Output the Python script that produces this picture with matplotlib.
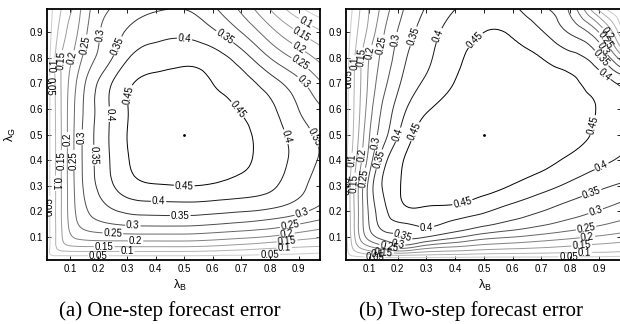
import numpy as np
import matplotlib
matplotlib.use("Agg")
import matplotlib.pyplot as plt
import matplotlib.tri as mtri

# grid nodes (lambda_B along columns, lambda_G along rows)
lam_B = [0.01, 0.03, 0.06, 0.1, 0.15, 0.22, 0.3, 0.4, 0.5, 0.6, 0.7, 0.8, 0.9, 0.99]
lam_G = [0.01, 0.03, 0.06, 0.1, 0.15, 0.22, 0.3, 0.4, 0.5, 0.6, 0.7, 0.8, 0.9, 0.99]

# (a) one-step forecast error, rows = lambda_G, cols = lambda_B
err_one_step = [
    [0, 0, 0, 0, 0, 0, 0, 0, 0, 0, 0, 0, 0, 0],
    [0, 0.045, 0.059, 0.06, 0.06, 0.06, 0.06, 0.06, 0.06, 0.057, 0.053, 0.048, 0.042, 0.035],
    [0, 0.05, 0.112, 0.139, 0.144, 0.145, 0.145, 0.145, 0.145, 0.138, 0.125, 0.11, 0.1, 0.095],
    [0, 0.05, 0.1225, 0.19, 0.2175, 0.226, 0.229, 0.23, 0.23, 0.222, 0.21, 0.195, 0.17, 0.15],
    [0, 0.05, 0.124, 0.21, 0.267, 0.293, 0.306, 0.31, 0.31, 0.302, 0.29, 0.275, 0.25, 0.225],
    [0, 0.05, 0.125, 0.217, 0.293, 0.343, 0.374, 0.383, 0.385, 0.38, 0.372, 0.36, 0.33, 0.29],
    [0, 0.05, 0.125, 0.219, 0.306, 0.374, 0.427, 0.446, 0.45, 0.445, 0.432, 0.41, 0.365, 0.32],
    [0, 0.05, 0.125, 0.22, 0.31, 0.383, 0.446, 0.47, 0.475, 0.472, 0.457, 0.43, 0.38, 0.34],
    [0, 0.05, 0.125, 0.22, 0.31, 0.385, 0.45, 0.475, 0.48, 0.475, 0.458, 0.428, 0.375, 0.335],
    [0, 0.05, 0.127, 0.218, 0.305, 0.383, 0.448, 0.473, 0.477, 0.468, 0.447, 0.412, 0.35, 0.3],
    [0, 0.05, 0.13, 0.21, 0.295, 0.375, 0.44, 0.465, 0.47, 0.45, 0.423, 0.375, 0.315, 0.245],
    [0, 0.05, 0.13, 0.19, 0.26, 0.325, 0.395, 0.425, 0.435, 0.423, 0.375, 0.30, 0.235, 0.175],
    [0, 0.04, 0.105, 0.165, 0.235, 0.31, 0.355, 0.385, 0.39, 0.36, 0.30, 0.22, 0.15, 0.1],
    [0, 0.035, 0.085, 0.14, 0.22, 0.29, 0.325, 0.345, 0.35, 0.31, 0.24, 0.15, 0.065, 0.0],
]

# (b) two-step forecast error
err_two_step = [
    [0, 0, 0, 0, 0, 0, 0, 0, 0, 0, 0, 0, 0, 0],
    [0, 0.045, 0.07, 0.09, 0.1, 0.11, 0.1, 0.093, 0.085, 0.082, 0.079, 0.076, 0.074, 0.071],
    [0, 0.065, 0.14, 0.19, 0.23, 0.27, 0.22, 0.195, 0.175, 0.164, 0.154, 0.143, 0.133, 0.125],
    [0, 0.075, 0.18, 0.27, 0.32, 0.35, 0.35, 0.31, 0.27, 0.251, 0.231, 0.212, 0.193, 0.176],
    [0, 0.08, 0.19, 0.3, 0.37, 0.395, 0.41, 0.385, 0.36, 0.333, 0.307, 0.281, 0.256, 0.235],
    [0, 0.085, 0.19, 0.31, 0.39, 0.447, 0.45, 0.445, 0.42, 0.392, 0.364, 0.336, 0.31, 0.285],
    [0, 0.085, 0.19, 0.315, 0.405, 0.455, 0.47, 0.472, 0.47, 0.447, 0.42, 0.389, 0.361, 0.34],
    [0, 0.07, 0.16, 0.27, 0.38, 0.45, 0.478, 0.487, 0.485, 0.475, 0.465, 0.44, 0.413, 0.39],
    [0, 0.06, 0.14, 0.245, 0.33, 0.42, 0.47, 0.485, 0.49, 0.49, 0.485, 0.47, 0.44, 0.405],
    [0, 0.057, 0.13, 0.225, 0.31, 0.39, 0.445, 0.47, 0.485, 0.487, 0.482, 0.468, 0.446, 0.40],
    [0, 0.055, 0.125, 0.21, 0.285, 0.36, 0.41, 0.452, 0.47, 0.475, 0.47, 0.458, 0.43, 0.385],
    [0, 0.05, 0.12, 0.2, 0.265, 0.34, 0.39, 0.44, 0.46, 0.462, 0.45, 0.42, 0.36, 0.2],
    [0, 0.04, 0.1, 0.165, 0.245, 0.32, 0.375, 0.425, 0.45, 0.445, 0.405, 0.345, 0.25, 0.03],
    [0, 0.03, 0.085, 0.15, 0.22, 0.3, 0.355, 0.40, 0.43, 0.412, 0.36, 0.29, 0.09, 0],
]

levels = [0.05, 0.1, 0.15, 0.2, 0.25, 0.3, 0.35, 0.4, 0.45]
tick_vals = [0.1, 0.2, 0.3, 0.4, 0.5, 0.6, 0.7, 0.8, 0.9]
tick_labels = ["0.1", "0.2", "0.3", "0.4", "0.5", "0.6", "0.7", "0.8", "0.9"]
center_point = (0.5, 0.5)
captions = ["(a) One-step forecast error", "(b) Two-step forecast error"]

# where the contour labels sit in each panel (layout only)
label_spots = [
    [(0.035, 0.69), (0.05, 0.77), (0.07, 0.79), (0.11, 0.80), (0.16, 0.85),
     (0.20, 0.89), (0.26, 0.85), (0.24, 0.58), (0.335, 0.65),
     (0.03, 0.22), (0.046, 0.31), (0.07, 0.40), (0.09, 0.48), (0.12, 0.40),
     (0.146, 0.49), (0.185, 0.42),
     (0.50, 0.30), (0.41, 0.23), (0.486, 0.175), (0.32, 0.137), (0.25, 0.108),
     (0.33, 0.083), (0.22, 0.062), (0.30, 0.044), (0.20, 0.025),
     (0.907, 0.21), (0.87, 0.145), (0.86, 0.11), (0.86, 0.08), (0.85, 0.047),
     (0.80, 0.02),
     (0.69, 0.60), (0.85, 0.49), (0.94, 0.48),
     (0.50, 0.865), (0.64, 0.88), (0.93, 0.95), (0.92, 0.91), (0.90, 0.84),
     (0.90, 0.77), (0.91, 0.70)],
    [(0.035, 0.72), (0.055, 0.78), (0.083, 0.80), (0.11, 0.82), (0.15, 0.85),
     (0.205, 0.87), (0.265, 0.88), (0.34, 0.89), (0.46, 0.88),
     (0.02, 0.30), (0.037, 0.40), (0.05, 0.31), (0.07, 0.42), (0.085, 0.33),
     (0.118, 0.47), (0.146, 0.40), (0.20, 0.50), (0.264, 0.51),
     (0.43, 0.215), (0.30, 0.14), (0.215, 0.10), (0.20, 0.07), (0.17, 0.055),
     (0.15, 0.04), (0.13, 0.03), (0.12, 0.02),
     (0.92, 0.35), (0.88, 0.254), (0.89, 0.195), (0.855, 0.137), (0.86, 0.10),
     (0.84, 0.067), (0.85, 0.04), (0.795, 0.015),
     (0.90, 0.53), (0.91, 0.72), (0.91, 0.80), (0.92, 0.84), (0.925, 0.87),
     (0.93, 0.895)],
]

plt.rcParams["font.family"] = ["Liberation Sans", "DejaVu Sans"]
plt.rcParams["mathtext.fontset"] = "custom"
plt.rcParams["mathtext.rm"] = "Liberation Sans"
plt.rcParams["mathtext.it"] = "Liberation Sans"

W, H = 620, 324
fig = plt.figure(figsize=(W / 100, H / 100), dpi=100)

line_colors = [str(0.8 * (levels[-1] - l) / (levels[-1] - levels[0])) for l in levels]


def px_rect(x0, x1, y0, y1):
    return [x0 / W, 1 - y1 / H, (x1 - x0) / W, (y1 - y0) / H]


axes_px = [(47, 320, 9.3, 260), (346, 620.5, 9.3, 260)]

# structured triangulation of the grid (same diagonal in every cell)
nx, ny = len(lam_B), len(lam_G)
X, Y = np.meshgrid(lam_B, lam_G)
tris = []
for j in range(ny - 1):
    for i in range(nx - 1):
        a = j * nx + i
        b, c, d = a + 1, a + nx, a + nx + 1
        tris.append([a, b, d])
        tris.append([a, d, c])
tri = mtri.Triangulation(X.ravel(), Y.ravel(), np.array(tris))
refiner = mtri.UniformTriRefiner(tri)

for k, (z, rect) in enumerate(zip([err_one_step, err_two_step], axes_px)):
    ax = fig.add_axes(px_rect(*rect))
    zf = np.asarray(z, dtype=float).ravel()
    interp = mtri.CubicTriInterpolator(tri, zf, kind="min_E")
    tri_f, z_f = refiner.refine_field(zf, triinterpolator=interp, subdiv=3)
    cs = ax.tricontour(tri_f, z_f, levels=levels, colors=line_colors, linewidths=0.7)
    ax.set_xlim(0.02, 0.975)
    ax.set_ylim(0.01, 0.99)
    ax.clabel(cs, fmt="%g", fontsize=7, inline=True, inline_spacing=1,
              colors="k", manual=label_spots[k])
    ax.plot([center_point[0]], [center_point[1]], "k.", ms=2)
    ax.set_xticks(tick_vals)
    ax.set_xticklabels(tick_labels)
    ax.set_yticks(tick_vals)
    ax.set_yticklabels(tick_labels)
    ax.tick_params(direction="in", length=3, width=0.6, labelsize=7,
                   top=True, right=True, pad=3)
    for s in ax.spines.values():
        s.set_linewidth(1.3)
    fig.text((180 if k == 0 else 485) / W, 1 - 285 / H, r"λ$_{\rm B}$",
             ha="center", va="center", fontsize=9)
    fig.text((170 if k == 0 else 471) / W, 1 - 311 / H, captions[k],
             ha="center", va="center", fontsize=15, family="Liberation Serif")

fig.text(10 / W, 1 - 135 / H, r"λ$_{\rm G}$", ha="center", va="center",
         rotation=90, fontsize=9)

fig.savefig("out.png", dpi=100)
